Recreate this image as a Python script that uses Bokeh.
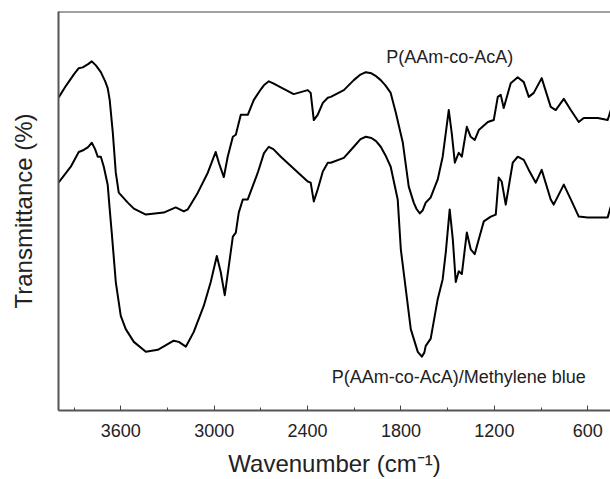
from bokeh.plotting import figure
from bokeh.models import FixedTicker, Span
from bokeh.core.properties import value
from bokeh.embed import file_html
from bokeh.resources import INLINE

# FTIR spectra: wavenumber (cm-1) and transmittance (arbitrary offset, %)
wn_copolymer = [4000, 3950, 3900, 3870, 3844, 3810, 3786, 3760, 3728, 3700, 3684, 3671,
                3651, 3632, 3613, 3555, 3516, 3439, 3324, 3247, 3195, 3170, 3105, 3041,
                2990, 2970, 2938, 2913, 2880, 2861, 2829, 2784, 2746, 2700, 2681, 2649,
                2620, 2572, 2489, 2399, 2380, 2360, 2335, 2302, 2270, 2251, 2167, 2103,
                2060, 2026, 1990, 1960, 1930, 1900, 1866, 1833, 1788, 1750, 1718, 1700,
                1679, 1660, 1641, 1609, 1564, 1532, 1512, 1493, 1474, 1454, 1429, 1409,
                1377, 1352, 1326, 1300, 1242, 1204, 1178, 1159, 1140, 1095, 1050, 1011,
                979, 947, 896, 838, 806, 754, 709, 658, 626, 536, 472, 452]
t_copolymer = [78.4, 81.5, 84.3, 85.8, 86.0, 86.8, 87.5, 86.5, 84.8, 82.5, 80.8, 77.8,
               69.6, 59.6, 54.6, 52.1, 50.6, 49.1, 49.6, 50.9, 49.9, 50.4, 54.6, 59.6,
               64.8, 62.1, 58.5, 63.6, 68.6, 69.1, 74.1, 74.1, 77.8, 80.5, 81.5, 82.5,
               82.0, 81.0, 79.3, 80.3, 79.6, 72.8, 74.1, 77.1, 78.4, 78.6, 80.3, 82.8,
               84.2, 84.8, 84.5, 83.8, 82.8, 81.5, 79.6, 74.6, 67.1, 56.1, 52.1, 50.5,
               49.4, 50.2, 52.1, 53.4, 57.9, 63.6, 69.6, 75.3, 69.6, 62.1, 64.6, 63.6,
               71.1, 68.6, 67.8, 70.3, 72.3, 72.8, 78.6, 79.1, 75.8, 82.0, 83.5, 82.3,
               78.6, 79.6, 83.3, 76.1, 75.3, 78.1, 75.3, 72.3, 73.3, 73.3, 72.8, 75.3]

wn_dyed = [4000, 3921, 3870, 3838, 3810, 3786, 3765, 3748, 3728, 3709, 3684, 3671,
           3658, 3632, 3600, 3568, 3516, 3439, 3362, 3260, 3227, 3182, 3131, 3067,
           3022, 2983, 2958, 2932, 2906, 2880, 2861, 2842, 2816, 2784, 2720, 2680,
           2649, 2620, 2572, 2399, 2380, 2360, 2335, 2302, 2270, 2251, 2167, 2103,
           2060, 2026, 1990, 1960, 1930, 1900, 1866, 1821, 1801, 1737, 1692, 1666,
           1650, 1641, 1609, 1564, 1532, 1512, 1487, 1467, 1448, 1429, 1409, 1377,
           1352, 1326, 1300, 1268, 1223, 1191, 1172, 1153, 1127, 1082, 1050, 1011,
           979, 934, 896, 838, 819, 754, 709, 658, 600, 472, 452]
t_dyed = [57.1, 61.1, 64.8, 65.3, 66.0, 67.1, 65.5, 63.6, 63.6, 61.1, 56.6, 50.4,
          44.6, 32.2, 23.7, 20.4, 17.2, 14.7, 15.2, 17.5, 17.2, 16.0, 19.7, 26.2,
          32.2, 38.7, 34.7, 28.9, 36.2, 43.6, 44.6, 49.6, 52.9, 52.9, 59.6, 64.5,
          66.1, 65.5, 63.6, 57.4, 57.1, 52.4, 55.4, 59.9, 62.1, 62.1, 63.3, 66.1,
          68.0, 68.6, 68.3, 67.5, 66.1, 64.0, 61.1, 52.9, 40.4, 20.4, 14.7, 13.5,
          14.5, 16.2, 18.0, 27.9, 32.9, 39.7, 50.4, 42.9, 32.2, 34.9, 34.2, 44.6,
          40.4, 39.2, 42.9, 47.4, 48.6, 49.1, 58.4, 57.4, 51.6, 62.1, 63.6, 62.8,
          60.3, 57.1, 60.3, 52.9, 51.6, 56.6, 52.9, 48.6, 48.4, 48.4, 51.1]

major_ticks = [3600, 3000, 2400, 1800, 1200, 600]
minor_ticks = [3900, 3300, 2700, 2100, 1500, 900]
series_names = ["P(AAm-co-AcA)", "P(AAm-co-AcA)/Methylene blue"]

FONT = "Liberation Sans"

p = figure(width=610, height=479, x_range=(4000, 454), y_range=(0, 100),
           output_backend="svg", toolbar_location=None,
           min_border_left=58, min_border_top=11, min_border_bottom=67,
           min_border_right=0)
p.outline_line_color = None
p.grid.visible = False
p.background_fill_color = "white"

p.line(wn_copolymer, t_copolymer, line_color="black", line_width=2, line_join="round")
p.line(wn_dyed, t_dyed, line_color="black", line_width=2, line_join="round")

p.text(x=[1487], y=[88.5], text=[series_names[0]], text_align="center",
       text_baseline="middle", text_font=value(FONT), text_font_size="18px",
       text_color="#222222")
p.text(x=[1429], y=[8.5], text=[series_names[1]], text_align="center",
       text_baseline="middle", text_font=value(FONT), text_font_size="18px",
       text_color="#222222")

# top border of the frame
p.add_layout(Span(location=100, dimension="width", line_color="#444444", line_width=2))

xa = p.xaxis[0]
xa.ticker = FixedTicker(ticks=major_ticks, minor_ticks=minor_ticks)
xa.major_tick_in = 5
xa.major_tick_out = 0
xa.minor_tick_in = 3
xa.minor_tick_out = 0
xa.major_tick_line_color = "#444444"
xa.minor_tick_line_color = "#444444"
xa.axis_line_color = "#555555"
xa.axis_line_width = 2
xa.major_label_text_font = FONT
xa.major_label_text_font_size = "18px"
xa.major_label_text_color = "#222222"
xa.major_label_standoff = 13
xa.axis_label = "Wavenumber (cm\u207b\u00b9)"
xa.axis_label_text_font = FONT
xa.axis_label_text_font_size = "24px"
xa.axis_label_text_font_style = "normal"
xa.axis_label_text_color = "#222222"
xa.axis_label_standoff = 10

ya = p.yaxis[0]
ya.ticker = FixedTicker(ticks=[])
ya.major_tick_out = 0
ya.major_tick_in = 0
ya.minor_tick_out = 0
ya.minor_tick_in = 0
ya.major_label_text_font_size = "0px"
ya.axis_line_color = "#555555"
ya.axis_line_width = 2
ya.axis_label = "Transmittance (%)"
ya.axis_label_text_font = FONT
ya.axis_label_text_font_size = "24px"
ya.axis_label_text_font_style = "normal"
ya.axis_label_text_color = "#222222"
ya.axis_label_standoff = 22

open("out.html", "w").write(file_html(p, INLINE))
